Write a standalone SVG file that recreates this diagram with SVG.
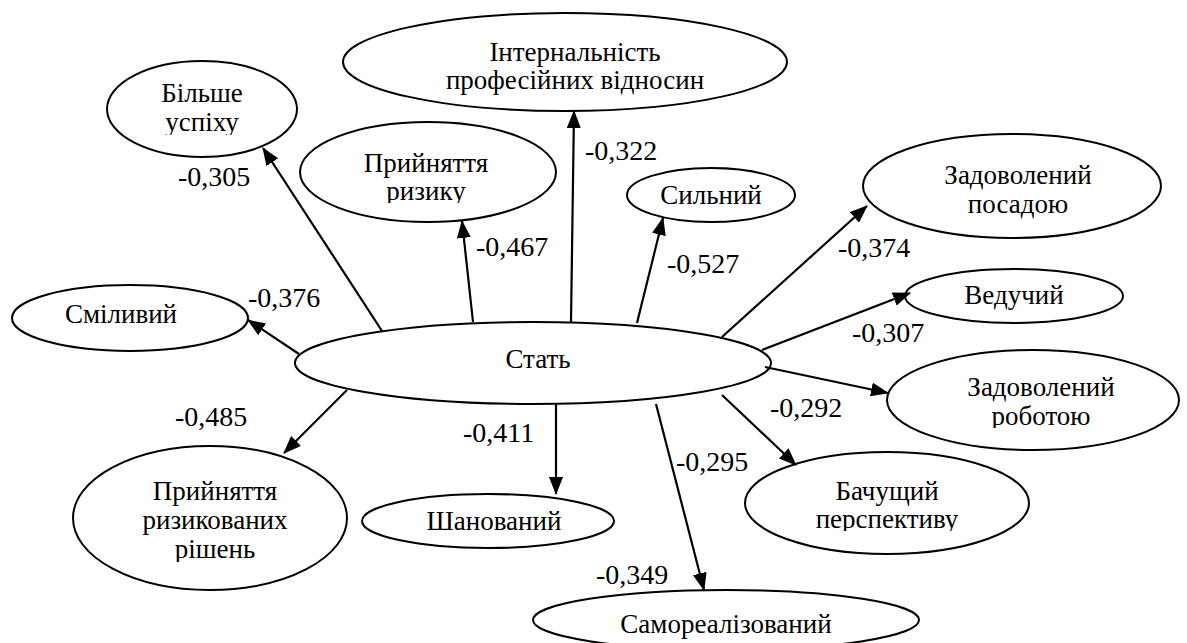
<svg xmlns="http://www.w3.org/2000/svg" width="1187" height="643" viewBox="0 0 1187 643">
<style>
.n ellipse{fill:#fff;stroke:#000;stroke-width:2}
.t{font-family:'Liberation Serif','Times New Roman',serif;font-size:27px;fill:#000;text-anchor:middle}
.l{font-family:'Liberation Serif','Times New Roman',serif;font-size:28px;fill:#000}
.c line{stroke:#000;stroke-width:2.2;marker-end:url(#ah)}
</style>
<defs>
<marker id="ah" markerUnits="userSpaceOnUse" markerWidth="18" markerHeight="14" refX="17" refY="7" orient="auto">
<path d="M0,0 L18,7 L0,14 Z" fill="#000"/>
</marker>
<clipPath id="k1"><rect x="0" y="0" width="1187" height="135"/></clipPath>
<clipPath id="k3"><rect x="0" y="0" width="1187" height="203"/></clipPath>
<clipPath id="k9"><rect x="0" y="0" width="1187" height="428"/></clipPath>
<clipPath id="k10"><rect x="0" y="0" width="1187" height="562"/></clipPath>
<clipPath id="k12"><rect x="0" y="0" width="1187" height="531"/></clipPath>
</defs>
<g id="n7" class="n"><ellipse cx="533" cy="363" rx="238" ry="41"/><text class="t" x="538" y="368">Стать</text></g>
<g id="n1" class="n"><ellipse cx="202" cy="109" rx="95" ry="48"/><g clip-path="url(#k1)"><text class="t" x="202" y="102">Більше</text><text class="t" x="202" y="131">успіху</text></g></g>
<g id="n2" class="n"><ellipse cx="565" cy="62" rx="222" ry="49"/><text class="t" x="575" y="61">Інтернальність</text><text class="t" x="575" y="89">професійних відносин</text></g>
<g id="n3" class="n"><ellipse cx="428" cy="172" rx="128" ry="50"/><g clip-path="url(#k3)"><text class="t" x="426" y="172">Прийняття</text><text class="t" x="426" y="200">ризику</text></g></g>
<g id="n4" class="n"><ellipse cx="711" cy="195" rx="84" ry="27"/><text class="t" x="711" y="204">Сильний</text></g>
<g id="n5" class="n"><ellipse cx="1012" cy="186" rx="149" ry="52"/><text class="t" x="1018" y="184">Задоволений</text><text class="t" x="1018" y="213">посадою</text></g>
<g id="n6" class="n"><ellipse cx="130" cy="318" rx="118" ry="33"/><text class="t" x="121" y="323">Сміливий</text></g>
<g id="n8" class="n"><ellipse cx="1014" cy="296" rx="109" ry="27"/><text class="t" x="1014" y="304">Ведучий</text></g>
<g id="n9" class="n"><ellipse cx="1033" cy="400" rx="146" ry="50"/><g clip-path="url(#k9)"><text class="t" x="1041" y="396">Задоволений</text><text class="t" x="1041" y="425">роботою</text></g></g>
<g id="n10" class="n"><ellipse cx="210" cy="518" rx="137" ry="72"/><g clip-path="url(#k10)"><text class="t" x="215" y="500">Прийняття</text><text class="t" x="215" y="529">ризикованих</text><text class="t" x="215" y="558">рішень</text></g></g>
<g id="n11" class="n"><ellipse cx="488" cy="521" rx="126" ry="27"/><text class="t" x="494" y="530">Шанований</text></g>
<g id="n12" class="n"><ellipse cx="887" cy="503" rx="142" ry="51"/><g clip-path="url(#k12)"><text class="t" x="887" y="500">Бачущий</text><text class="t" x="887" y="528">перспективу</text></g></g>
<g id="n13" class="n"><ellipse cx="726" cy="620" rx="193" ry="30"/><text class="t" x="726" y="633">Самореалізований</text></g>
<g id="connectors" class="c">
<line x1="382" y1="331" x2="263" y2="148"/>
<line x1="473" y1="322" x2="462" y2="221"/>
<line x1="571" y1="322" x2="574" y2="111"/>
<line x1="637" y1="323" x2="663" y2="218"/>
<line x1="722" y1="337" x2="867" y2="206"/>
<line x1="762" y1="350" x2="910" y2="293"/>
<line x1="765" y1="367" x2="888" y2="393"/>
<line x1="722" y1="395" x2="796" y2="465"/>
<line x1="656" y1="404" x2="704" y2="590"/>
<line x1="556" y1="404" x2="556" y2="494"/>
<line x1="347" y1="390" x2="284" y2="453"/>
<line x1="299" y1="354" x2="248" y2="320"/>
</g>
<g id="labels">
<text class="l" x="178" y="186">-0,305</text>
<text class="l" x="476" y="256">-0,467</text>
<text class="l" x="585" y="160">-0,322</text>
<text class="l" x="667" y="273">-0,527</text>
<text class="l" x="838" y="257">-0,374</text>
<text class="l" x="248" y="307">-0,376</text>
<text class="l" x="852" y="342">-0,307</text>
<text class="l" x="770" y="417">-0,292</text>
<text class="l" x="175" y="426">-0,485</text>
<text class="l" x="463" y="442">-0,411</text>
<text class="l" x="676" y="471">-0,295</text>
<text class="l" x="596" y="584">-0,349</text>
</g>
</svg>
